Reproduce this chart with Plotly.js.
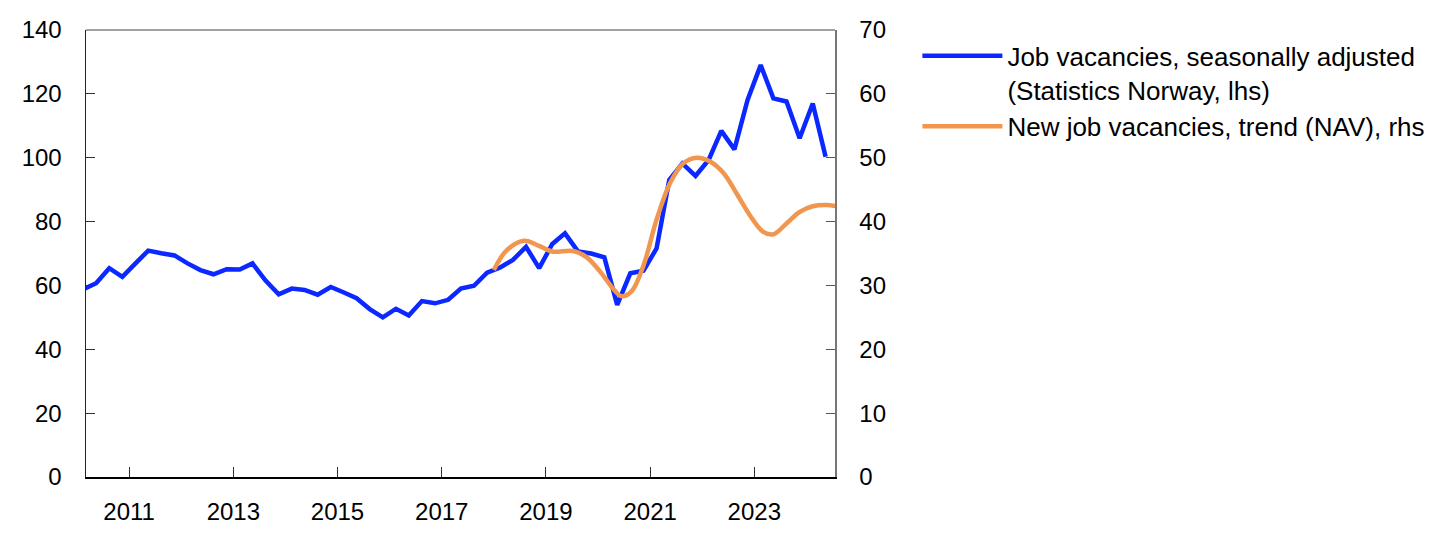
<!DOCTYPE html>
<html>
<head>
<meta charset="utf-8">
<script src="https://cdn.plot.ly/plotly-3.0.1.min.js"></script>
<style>
  html, body { margin: 0; padding: 0; background: #fff; }
  #chart { width: 1445px; height: 543px; }
</style>
</head>
<body>
<div id="chart"></div>
<script>
// Quarterly observations (mid-quarter dates), 2010Q1 - 2024Q2
const quarterDates = [
  '2010-02-15','2010-05-15','2010-08-15','2010-11-15',
  '2011-02-15','2011-05-15','2011-08-15','2011-11-15',
  '2012-02-15','2012-05-15','2012-08-15','2012-11-15',
  '2013-02-15','2013-05-15','2013-08-15','2013-11-15',
  '2014-02-15','2014-05-15','2014-08-15','2014-11-15',
  '2015-02-15','2015-05-15','2015-08-15','2015-11-15',
  '2016-02-15','2016-05-15','2016-08-15','2016-11-15',
  '2017-02-15','2017-05-15','2017-08-15','2017-11-15',
  '2018-02-15','2018-05-15','2018-08-15','2018-11-15',
  '2019-02-15','2019-05-15','2019-08-15','2019-11-15',
  '2020-02-15','2020-05-15','2020-08-15','2020-11-15',
  '2021-02-15','2021-05-15','2021-08-15','2021-11-15',
  '2022-02-15','2022-05-15','2022-08-15','2022-11-15',
  '2023-02-15','2023-05-15','2023-08-15','2023-11-15',
  '2024-02-15','2024-05-15'
];
// Job vacancies, seasonally adjusted (Statistics Norway), thousands, lhs
const jobVacancies = [
  58.8, 60.7, 65.4, 62.7,
  66.9, 70.9, 70.1, 69.4,
  66.9, 64.8, 63.5, 65.1,
  65.0, 66.9, 61.5, 57.2,
  59.0, 58.6, 57.1, 59.5,
  57.8, 56.0, 52.6, 50.0,
  52.7, 50.6, 55.1, 54.4,
  55.5, 59.0, 59.9, 64.0,
  65.6, 68.0, 72.1, 65.4,
  73.0, 76.3, 70.6, 70.0,
  68.8, 53.9, 63.8, 64.6,
  71.6, 93.0, 98.2, 94.3,
  99.3, 108.4, 102.6, 118.1,
  129.0, 118.6, 117.6, 106.1,
  117.0, 100.3
];
// New job vacancies, trend (NAV), thousands, rhs
const navDates = [
  '2018-01-01','2018-04-01','2018-08-01','2018-11-15','2019-02-15','2019-07-10',
  '2019-10-15','2020-01-15','2020-04-20','2020-06-15','2020-08-25','2020-11-15',
  '2021-02-15','2021-05-20','2021-08-20','2021-11-25','2022-02-25','2022-05-30',
  '2022-08-30','2022-12-01','2023-03-05','2023-05-15','2023-08-15','2023-11-15',
  '2024-02-15','2024-05-20','2024-07-30'
];
const navTrend = [
  32.4, 35.5, 37.0, 36.2, 35.3, 35.4,
  34.4, 32.2, 29.4, 28.3, 29.1, 33.1,
  40.3, 46.0, 49.1, 50.0, 49.4, 47.6,
  44.4, 41.0, 38.4, 38.0, 39.7, 41.5,
  42.4, 42.6, 42.4
];
const seriesNames = [
  'Job vacancies, seasonally adjusted<br>(Statistics Norway, lhs)',
  'New job vacancies, trend (NAV), rhs'
];
const leftTicks = [0, 20, 40, 60, 80, 100, 120, 140];
const rightTicks = [0, 10, 20, 30, 40, 50, 60, 70];

const FONT = 'Liberation Sans, Arial, Helvetica, sans-serif';

const traces = [
  {
    x: quarterDates, y: jobVacancies, name: seriesNames[0],
    type: 'scatter', mode: 'lines', yaxis: 'y',
    line: { color: '#0a28ff', width: 4.5 }
  },
  {
    x: navDates, y: navTrend, name: seriesNames[1],
    type: 'scatter', mode: 'lines', yaxis: 'y2',
    line: { color: '#f0964e', width: 4.5, shape: 'spline', smoothing: 1 }
  }
];

const layout = {
  width: 1445, height: 543,
  margin: { l: 86, r: 610, t: 30, b: 66 },
  paper_bgcolor: '#ffffff', plot_bgcolor: '#ffffff',
  font: { family: FONT, size: 24, color: '#000' },
  showlegend: true,
  legend: {
    x: 1.11, y: 0.995, xanchor: 'left', yanchor: 'top',
    font: { family: FONT, size: 26, color: '#000' },
    bgcolor: 'rgba(0,0,0,0)', valign: 'top', itemwidth: 80,
    tracegroupgap: 0
  },
  xaxis: {
    type: 'date',
    range: ['2010-03-05', '2024-07-20'],
    tick0: '2011-01-01', dtick: 'M24', tickformat: '%Y',
    ticks: 'inside', ticklen: 10, tickcolor: '#333', tickwidth: 1,
    showline: true, linecolor: '#000', linewidth: 2,
    mirror: false, showgrid: false, zeroline: false,
    ticklabelstandoff: 12,
    tickfont: { family: FONT, size: 24, color: '#000' }
  },
  yaxis: {
    range: [0, 140], tickvals: leftTicks,
    ticks: 'inside', ticklen: 9, tickcolor: '#333', tickwidth: 1,
    showline: true, linecolor: '#222', linewidth: 1.5,
    showgrid: false, zeroline: false,
    ticklabelstandoff: 18,
    tickfont: { family: FONT, size: 24, color: '#000' }
  },
  yaxis2: {
    range: [0, 70], tickvals: rightTicks, overlaying: 'y', side: 'right',
    ticks: 'inside', ticklen: 9, tickcolor: '#555', tickwidth: 1,
    showline: true, linecolor: '#777', linewidth: 1.5,
    showgrid: false, zeroline: false,
    ticklabelstandoff: 18,
    tickfont: { family: FONT, size: 24, color: '#000' }
  },
  shapes: [
    { type: 'line', xref: 'paper', yref: 'paper', x0: 0, x1: 1, y0: 1, y1: 1,
      line: { color: '#444', width: 1.2 } }
  ]
};

Plotly.newPlot('chart', traces, layout, { displayModeBar: false, staticPlot: true });
</script>
</body>
</html>
